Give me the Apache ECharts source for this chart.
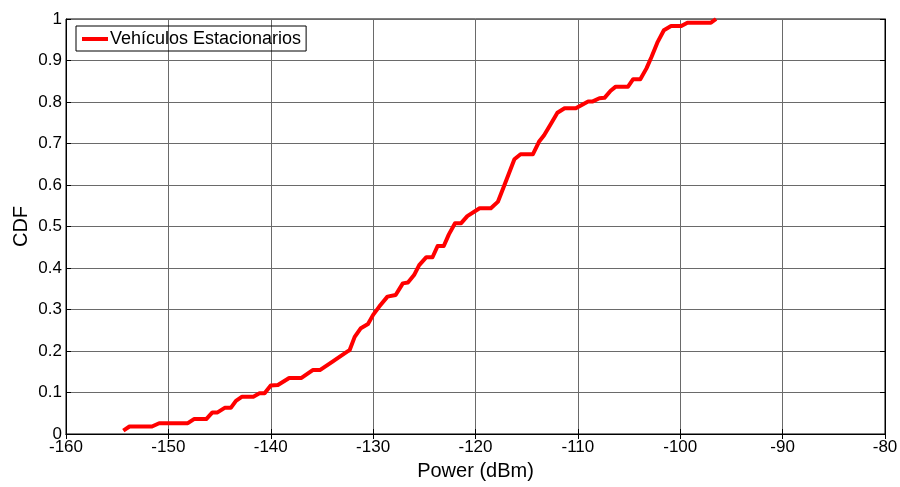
<!DOCTYPE html>
<html><head><meta charset="utf-8">
<script src="https://cdn.jsdelivr.net/npm/echarts@6/dist/echarts.min.js"></script>
<style>html,body{margin:0;padding:0;background:#fff}#c{width:900px;height:487px}</style>
</head><body><div id="c"></div>
<script>
const seriesName = 'Vehículos Estacionarios';
const xTitle = 'Power (dBm)';
const yTitle = 'CDF';
const power = [-154.4,-153.8,-151.6,-150.9,-148.1,-147.5,-146.3,-145.7,-145.2,-144.5,-143.9,-143.4,-142.8,-141.7,-141.1,-140.6,-140.0,-139.3,-138.2,-137.0,-135.9,-135.2,-134.0,-132.5,-132.3,-131.8,-131.2,-130.5,-130.0,-129.4,-128.6,-127.8,-127.1,-126.6,-126.0,-125.5,-124.8,-124.2,-123.7,-123.1,-122.6,-122.0,-121.4,-120.8,-119.6,-118.5,-117.8,-117.2,-116.2,-115.6,-114.4,-113.8,-113.3,-112.6,-112.0,-111.3,-110.2,-109.0,-108.6,-107.9,-107.4,-106.8,-106.3,-105.1,-104.6,-103.9,-103.3,-102.8,-102.2,-101.6,-100.9,-99.9,-99.3,-97.0,-96.5];
const cdf = [0.008,0.018,0.018,0.026,0.026,0.036,0.036,0.052,0.052,0.063,0.063,0.080,0.090,0.090,0.098,0.098,0.117,0.118,0.135,0.135,0.154,0.154,0.174,0.199,0.202,0.234,0.255,0.265,0.287,0.307,0.331,0.335,0.363,0.365,0.383,0.407,0.426,0.426,0.453,0.453,0.481,0.508,0.508,0.525,0.544,0.544,0.560,0.598,0.662,0.674,0.674,0.704,0.720,0.749,0.774,0.785,0.785,0.801,0.801,0.809,0.810,0.827,0.837,0.837,0.855,0.855,0.881,0.909,0.945,0.973,0.983,0.983,0.991,0.991,1.0];

const font = '"Liberation Sans", Arial, sans-serif';
const chart = echarts.init(document.getElementById('c'), null, {renderer:'canvas'});
const axisCommonX = {type:'value', min:-160, max:-80, interval:10};
const axisCommonY = {type:'value', min:0, max:1, interval:0.1};
chart.setOption({
  animation:false,
  backgroundColor:'#fff',
  textStyle:{fontFamily:font},
  grid:{left:66, right:15, top:19, bottom:53, show:true, borderColor:'#000', borderWidth:1,
        containLabel:false, outerBoundsMode:'none'},
  legend:{
    left:76, top:26, orient:'vertical',
    data:[{name:seriesName, icon:'rect'}],
    itemWidth:26, itemHeight:4, itemGap:0,
    borderColor:'#000', borderWidth:1, padding:[4,5,3,6],
    textStyle:{fontFamily:font, fontSize:18, color:'#000', padding:[0,0,0,-3]}
  },
  graphic:[{
    type:'text', x:21, y:226.5, rotation:Math.PI/2,
    style:{text:yTitle, fontFamily:font, fontSize:20, fill:'#000', align:'center', verticalAlign:'middle'}
  }],
  xAxis:[
    Object.assign({}, axisCommonX, {
      position:'bottom', name:xTitle, nameLocation:'middle', nameGap:27,
      nameTextStyle:{fontFamily:font, fontSize:20, color:'#000'},
      axisLine:{show:true, lineStyle:{color:'#000', width:1}},
      axisTick:{show:true, inside:true, length:5, lineStyle:{color:'#000'}},
      axisLabel:{fontFamily:font, fontSize:17, color:'#000', margin:5},
      splitLine:{show:true, lineStyle:{color:'#6a6a6a', width:1}}
    }),
    Object.assign({}, axisCommonX, {
      position:'top',
      axisLine:{show:true, lineStyle:{color:'#000', width:1}},
      axisTick:{show:true, inside:true, length:5, lineStyle:{color:'#000'}},
      axisLabel:{show:false}, splitLine:{show:false}
    })
  ],
  yAxis:[
    Object.assign({}, axisCommonY, {
      position:'left',
      axisLine:{show:true, lineStyle:{color:'#000', width:1}},
      axisTick:{show:true, inside:true, length:5, lineStyle:{color:'#000'}},
      axisLabel:{fontFamily:font, fontSize:17, color:'#000', margin:4},
      splitLine:{show:true, lineStyle:{color:'#6a6a6a', width:1}}
    }),
    Object.assign({}, axisCommonY, {
      position:'right',
      axisLine:{show:true, lineStyle:{color:'#000', width:1}},
      axisTick:{show:true, inside:true, length:5, lineStyle:{color:'#000'}},
      axisLabel:{show:false}, splitLine:{show:false}
    })
  ],
  series:[{
    name:seriesName, type:'line', xAxisIndex:0, yAxisIndex:0,
    data: power.map((p,i)=>[p, cdf[i]]),
    showSymbol:false, symbol:'none', smooth:false,
    lineStyle:{color:'#ff0000', width:4, join:'round'},
    itemStyle:{color:'#ff0000'}
  }]
});
</script></body></html>
